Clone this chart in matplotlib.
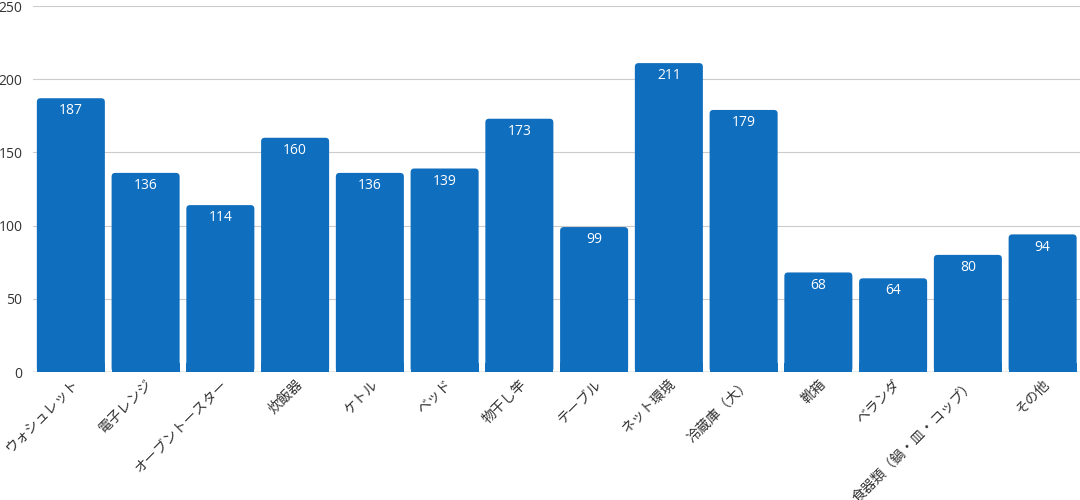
import matplotlib.pyplot as plt
from matplotlib.patches import FancyBboxPatch

plt.rcParams['font.family'] = ['Open Sans', 'Noto Sans CJK JP', 'DejaVu Sans']

categories = ["ウォシュレット", "電子レンジ", "オーブントースター", "炊飯器", "ケトル", "ベッド",
              "物干し竿", "テーブル", "ネット環境", "冷蔵庫（大）", "靴箱", "ベランダ",
              "食器類（鍋・皿・コップ）", "その他"]
values = [187, 136, 114, 160, 136, 139, 173, 99, 211, 179, 68, 64, 80, 94]

color = "#106ebe"

fig = plt.figure(figsize=(10.8, 5), dpi=100)
ax = fig.add_axes([0.031, 0.256, 0.969, 0.732])

x = list(range(len(categories)))
bars = ax.bar(x, values, width=0.91, color=color, zorder=2)

# rounded top corners
for b in bars:
    b.set_visible(False)
    p = FancyBboxPatch((b.get_x(), 0), b.get_width(), b.get_height(),
                       boxstyle="round,pad=0,rounding_size=0.05",
                       mutation_aspect=50,
                       facecolor=color, edgecolor="none", zorder=2)
    ax.add_patch(p)
    ax.bar(b.get_x() + b.get_width() / 2, min(6, b.get_height()), width=b.get_width(),
           color=color, zorder=2)

for xi, v in zip(x, values):
    ax.text(xi, v - 3.5, str(v), ha="center", va="top", color="white", fontsize=10, zorder=3)

ax.set_xlim(-0.5, len(categories) - 0.5)
ax.set_ylim(0, 250)
ax.set_yticks([0, 50, 100, 150, 200, 250])
ax.yaxis.grid(True, color="#cccccc", linewidth=0.8, zorder=0)
ax.axhline(0, color="#999999", linewidth=1, zorder=1)
for s in ax.spines.values():
    s.set_visible(False)
ax.tick_params(axis="both", length=0, colors="#333333", labelsize=10)
ax.tick_params(axis="y", pad=8)
ax.set_xticks(x)
ax.set_xticklabels(categories, rotation=45, ha="right", va="top", rotation_mode="anchor", fontsize=10)

fig.savefig("out.png", dpi=100)
